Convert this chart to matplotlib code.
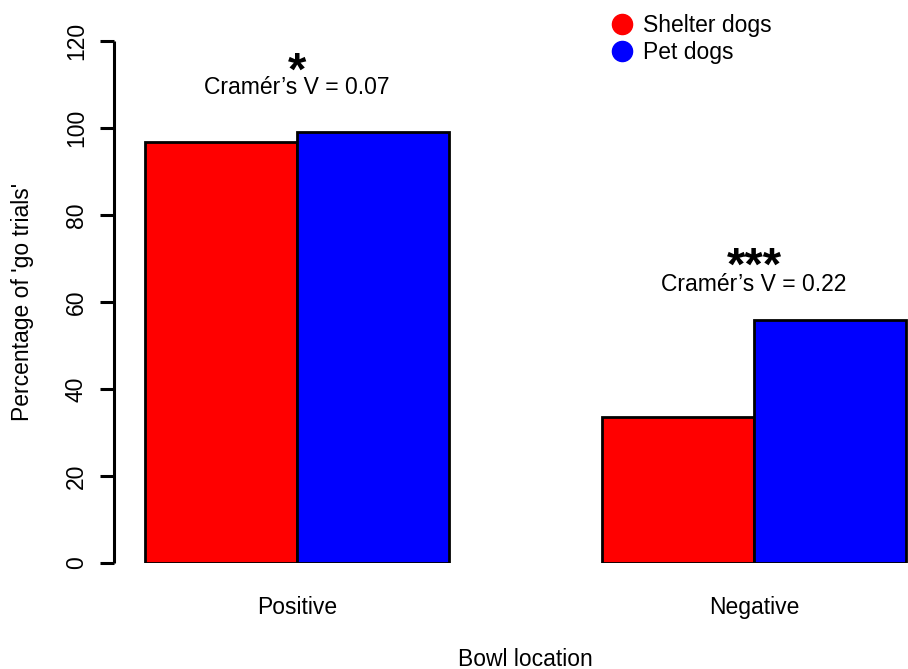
import matplotlib.pyplot as plt
from matplotlib.lines import Line2D
import numpy as np

plt.rcParams['font.family'] = ['Liberation Sans', 'DejaVu Sans']

# data
groups = ['Positive', 'Negative']
series = ['Shelter dogs', 'Pet dogs']
colours = ['#ff0000', '#0000ff']
shelter = [96.8, 33.5]
pet = [99.1, 55.9]
stars = ['*', '***']
effect = ['Cramér\u2019s V = 0.07', 'Cramér\u2019s V = 0.22']
# heights (in % units) where the annotations sit
effect_y = [109.4, 64.1]
star_y = [110.0, 65.1]
yticks = [0, 20, 40, 60, 80, 100, 120]

fig = plt.figure(figsize=(9.08, 6.69), dpi=100)
# plot region as in R: xlim extends 4% past the bars, right edge runs off the page
ax = fig.add_axes([114.3 / 908, 106 / 669, (936.8 - 114.3) / 908, 522 / 669])

# bar layout like barplot(beside=TRUE): bars one unit wide, one unit gap between groups
left_red = np.array([1, 4])
ax.bar(left_red, shelter, width=1, align='edge', color=colours[0],
       edgecolor='black', linewidth=2)
ax.bar(left_red + 1, pet, width=1, align='edge', color=colours[1],
       edgecolor='black', linewidth=2)

ax.set_xlim(0.8, 6.2)
ax.set_ylim(0, 120)

for s in ['top', 'right', 'bottom']:
    ax.spines[s].set_visible(False)
ax.spines['left'].set_linewidth(2.2)
ax.spines['left'].set_bounds(0, 120)
ax.spines['left'].set_capstyle('butt')

ax.set_yticks(yticks)
ax.set_yticklabels([str(t) for t in yticks], rotation=90, va='center')
ax.tick_params(axis='y', length=10, width=2.2, pad=9, labelsize=16.5)
ax.set_xticks(left_red + 1)
ax.set_xticklabels(groups)
ax.tick_params(axis='x', length=0, pad=23.5, labelsize=16.5)

ax.set_xlabel('Bowl location', fontsize=16.5, labelpad=21)
ax.set_ylabel("Percentage of 'go trials'", fontsize=16.5, labelpad=22)

# significance stars and effect sizes above each group
for x, ey, sy, st, ef in zip(left_red + 1, effect_y, star_y, stars, effect):
    ax.text(x, ey, ef, ha='center', va='center', fontsize=16.5, clip_on=False)
    ax.text(x, sy, st, ha='center', va='baseline', fontsize=34,
            fontweight='bold', clip_on=False)

handles = [Line2D([], [], marker='o', linestyle='', markersize=14.5,
                  markerfacecolor=c, markeredgecolor=c) for c in colours]
fig.legend(handles, series, loc='upper left', bbox_to_anchor=(606 / 908, 1 - 14 / 669),
           frameon=False, fontsize=16.5, handletextpad=0.23, labelspacing=0.18,
           borderaxespad=0, borderpad=0, handlelength=1.4)

fig.savefig('out.png', dpi=100)
